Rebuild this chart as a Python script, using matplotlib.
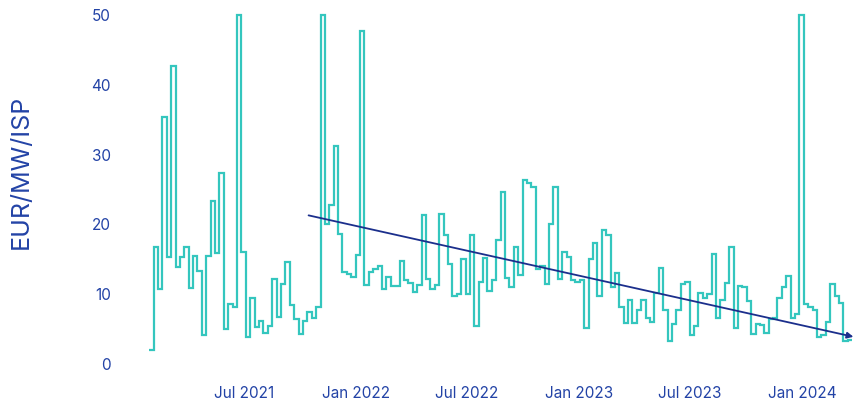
import matplotlib
matplotlib.use('Agg')
import matplotlib.pyplot as plt
import matplotlib.dates as mdates
import pandas as pd

plt.rcParams['font.family'] = ['Inter', 'DejaVu Sans']

# weekly-ish price series (EUR/MW/ISP); spikes are cut at 50
prices = [
    2.0, 16.8, 10.7, 35.4, 15.4, 42.7, 13.9, 15.3, 16.8, 10.9, 15.5, 13.3, 4.2, 15.5,
    23.4, 15.9, 27.4, 5.0, 8.6, 8.1, 50.0, 16.0, 3.8, 9.4, 5.3, 6.1, 4.5,
    5.4, 12.2, 6.7, 11.4, 14.6, 8.5, 6.5, 4.3, 6.2, 7.5, 6.6, 8.1, 50.0, 20.1, 22.8,
    31.2, 18.6, 13.2, 12.9, 12.5, 15.6, 47.7, 11.3, 13.2, 13.6, 14.0,
    10.7, 12.4, 11.2, 11.2, 14.7, 12.1, 11.6, 10.3, 11.3, 21.4, 12.2, 10.8, 11.3, 21.5,
    18.5, 14.3, 9.8, 10.0, 15.1, 10.1, 18.5, 5.5, 11.7, 15.2, 10.4, 12.1, 17.8,
    24.7, 12.3, 11.1, 16.8, 12.7, 26.4, 26.0, 25.4, 13.6, 14.0, 11.5, 20.1, 25.4, 12.2,
    16.1, 15.3, 12.1, 11.7, 12.1, 5.2, 15.1, 17.3, 9.8, 19.2, 18.5, 11.0, 13.0,
    8.2, 5.9, 9.1, 5.9, 7.7, 9.2, 6.6, 6.0, 10.2, 13.7, 7.7, 3.3, 5.8, 7.8,
    11.4, 11.7, 4.2, 5.4, 10.2, 9.5, 10.0, 15.8, 6.6, 9.2, 11.6, 16.8, 5.1,
    11.2, 11.0, 9.0, 4.3, 5.8, 5.6, 4.4, 6.4, 6.6, 9.4, 11.1, 12.6, 6.6, 7.1,
    50.0, 8.6, 8.2, 7.7, 3.8, 4.1, 6.0, 11.4, 9.7, 8.8, 3.3, 3.5,
]
first_day = '2021-01-27'
last_day = '2024-03-23'

# linear trend (start/end values)
trend_dates = ['2021-10-15', '2024-03-25']
trend_values = [21.3, 3.9]

yticks = [0, 10, 20, 30, 40, 50]
xticks = ['2021-07-01', '2022-01-01', '2022-07-01', '2023-01-01', '2023-07-01', '2024-01-01']

TEAL = '#34c6be'
NAVY = '#1b2f8c'
LABEL_BLUE = '#2343a6'

edges = mdates.date2num(pd.date_range(first_day, last_day, periods=len(prices) + 1))

fig = plt.figure(figsize=(8.54, 4.09), dpi=100)
ax = fig.add_axes([140 / 854, 45 / 409, 714 / 854, 351 / 409])

ax.stairs(prices, edges, baseline=None, color=TEAL, lw=1.6)

t0, t1 = mdates.date2num(pd.to_datetime(trend_dates))
ax.annotate('', xy=(t1, trend_values[1]), xytext=(t0, trend_values[0]),
            arrowprops=dict(arrowstyle='-|>', color=NAVY, lw=1.3, mutation_scale=9,
                            shrinkA=0, shrinkB=0))

ax.set_xlim(mdates.date2num(pd.Timestamp('2021-01-12')), mdates.date2num(pd.Timestamp('2024-03-26')))
ax.set_ylim(0, 50.3)
ax.set_yticks(yticks)
ax.set_xticks(mdates.date2num(pd.to_datetime(xticks)))
ax.xaxis.set_major_formatter(mdates.DateFormatter('%b %Y'))

for s in ax.spines.values():
    s.set_visible(False)
ax.tick_params(axis='both', length=0, labelsize=11, labelcolor=LABEL_BLUE)
ax.tick_params(axis='y', pad=21)
ax.tick_params(axis='x', pad=16)

ax.set_ylabel('EUR/MW/ISP', fontsize=18, color=LABEL_BLUE)
ax.yaxis.set_label_coords(-0.150, 0.547)

fig.savefig('out.png', dpi=100)
